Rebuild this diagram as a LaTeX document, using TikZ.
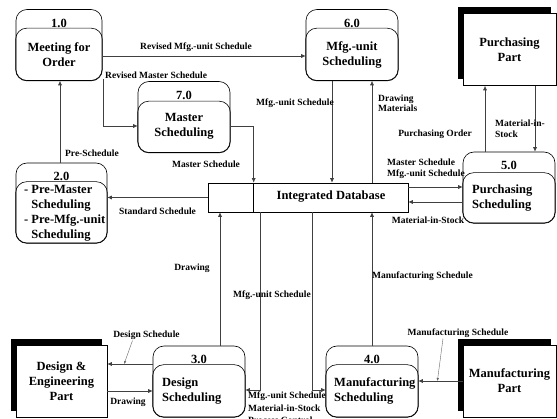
\documentclass[tikz,border=0pt]{standalone}
\usepackage{fontspec}
\setmainfont{Liberation Serif}
\usetikzlibrary{arrows.meta,positioning,shadows}

\begin{document}
\begin{tikzpicture}[x=1pt,y=-1pt,
  >={Latex[length=4.5pt,width=4pt]},
  proc/.style={draw,line width=0.6pt,rounded corners=11pt,minimum width=92pt,minimum height=71pt,inner sep=0pt},
  inbox/.style={draw,line width=0.6pt,rounded corners=11pt},
  ext/.style={draw,line width=0.6pt,fill=white,minimum width=93pt,minimum height=72pt,inner sep=0pt,
    general shadow={fill=black,shadow xshift=-5pt,shadow yshift=6pt}},
  big/.style={font=\fontsize{12.5}{15}\selectfont\bfseries,align=center,inner sep=0pt},
  lbl/.style={font=\fontsize{9.5}{10.5}\selectfont\bfseries,align=left,inner sep=0pt},
  flow/.style={->,line width=0.6pt,black!75},
  hint/.style={-{Latex[length=3pt,width=2.5pt]},thin,black!60}]
\useasboundingbox (0,0) rectangle (557,419);

% processes
\node[proc,minimum width=86pt] (p1) at (59,45) {};
\draw[inbox] ([yshift=-19pt]p1.north west) rectangle (p1.south east);
\node[big] at ([yshift=-14pt]p1.north) {1.0};
\node[big] at (59,55) {Meeting for\\Order};

\node[proc] (p6) at (352,45) {};
\draw[inbox] ([yshift=-19pt]p6.north west) rectangle (p6.south east);
\node[big] at ([yshift=-14pt]p6.north) {6.0};
\node[big] at (352,55) {Mfg.-unit\\Scheduling};

\node[proc] (p7) at (184,117) {};
\draw[inbox] ([yshift=-20pt]p7.north west) rectangle (p7.south east);
\node[big] at ([yshift=-14pt]p7.north) {7.0};
\node[big] at (184,126.5) {Master\\Scheduling};

\node[proc,minimum width=91pt,minimum height=80pt] (p2) at (61.5,203) {};
\draw[inbox] ([yshift=-19pt]p2.north west) rectangle (p2.south east);
\node[big] at ([yshift=-14pt]p2.north) {2.0};
\node[big,align=left,anchor=west] at (24,213.5)
  {- Pre-Master\\\hphantom{-~}Scheduling\\- Pre-Mfg.-unit\\\hphantom{-~}Scheduling};

\node[proc] (p5) at (509,187.5) {};
\draw[inbox] ([yshift=-21pt]p5.north west) rectangle (p5.south east);
\node[big] at ([yshift=-14pt]p5.north) {5.0};
\node[big,align=left,anchor=west] at (472,198) {Purchasing\\Scheduling};

\node[proc] (p3) at (199,381.5) {};
\draw[inbox] ([yshift=-19pt]p3.north west) rectangle (p3.south east);
\node[big] at ([yshift=-14pt]p3.north) {3.0};
\node[big,align=left,anchor=west] at (162,391) {Design\\Scheduling};

\node[proc] (p4) at (372,381.5) {};
\draw[inbox] ([yshift=-19pt]p4.north west) rectangle (p4.south east);
\node[big] at ([yshift=-14pt]p4.north) {4.0};
\node[big,align=left,anchor=west] at (334,391) {Manufacturing\\Scheduling};

% external parts
\node[ext,big] (pp) at (509.5,49.5) {Purchasing\\Part};
\node[ext,big,minimum width=91pt] (de) at (61.5,381) {Design \&\\Engineering\\Part};
\node[ext,big] (mp) at (509.5,381) {Manufacturing\\Part};

% data store
\node[draw,line width=0.6pt,minimum width=200pt,minimum height=29pt] (db) at (308,197.5) {};
\coordinate (dbd) at ([xshift=46pt]db.north west);
\draw[line width=0.6pt] (dbd) -- (dbd |- db.south);
\node[big] at (331,197) {Integrated Database};

% flows
\draw[flow] (p1.east |- 0,56) -- (p6.west |- 0,56);
\node[lbl] (l1) at (196,47) {Revised Mfg.-unit Schedule};
\draw[flow] ([xshift=1pt,yshift=2pt]p1.south east) |- ([yshift=-9pt]p7.west);
\node[lbl,anchor=west] (l2) at (105,75) {Revised Master Schedule};
\draw[flow] (p2.north -| 60,0) -- (p1.south -| 60,0);
\node[lbl] (l3) at (92,153) {Pre-Schedule};
\draw[flow] ([yshift=-9pt]p7.east) -| (dbd);
\node[lbl] (l4) at (206,164) {Master Schedule};
\draw[flow] (p6.south -| 332,0) -- (db.north -| 332,0);
\node[lbl] (l5) at (295,103) {Mfg.-unit Schedule};
\draw[flow] (db.north -| 372,0) -- (p6.south -| 372,0);
\node[lbl,anchor=west] (l6) at (378,103.5) {Drawing\\Materials};
\draw[flow] (p5.north -| 485,0) -- (pp.south -| 485,0);
\node[lbl] (l7) at (435,134) {Purchasing Order};
\draw[flow] (pp.south -| 535,0) -- (p5.north -| 535,0);
\node[lbl,anchor=west] (l8) at (495,129) {Material-in-\\Stock};
\draw[flow] (db.east |- 0,187) -- (p5.west |- 0,187);
\node[lbl,anchor=west] (l9) at (387,169) {Master Schedule\\Mfg.-unit Schedule};
\draw[flow] (p5.west |- 0,202) -- (db.east |- 0,202);
\node[lbl] (l10) at (428,220) {Material-in-Stock};
\draw[flow] (db.west) -- (db.west -| p2.east);
\node[lbl] (l11) at (157.5,211) {Standard Schedule};
\draw[flow] (p3.north -| 220,0) -- (db.south -| 220,0);
\node[lbl] (l12) at (192,268) {Drawing};
\draw[flow] (db.south -| 260,0) |- ([yshift=-8.5pt]p3.east);
\node[lbl] (l13) at (272,295) {Mfg.-unit Schedule};
\draw[flow] (db.south -| 312,0) |- ([yshift=-8.5pt]p4.west);
\node[lbl,anchor=north west,font=\fontsize{9.5}{12.5}\selectfont\bfseries] (l14) at (248,392)
  {Mfg.-unit Schedule\\Material-in-Stock\\Process Control};
\draw[flow] (p4.north -| 372,0) -- (db.south -| 372,0);
\node[lbl,anchor=west] (l15) at (372,276) {Manufacturing Schedule};
\draw[flow] (p3.west |- 0,364) -- (de.east |- 0,364) coordinate[pos=0.63] (ds);
\node[lbl] (l16) at (146.5,335) {Design Schedule};
\draw[hint] ([xshift=-14pt,yshift=-1pt]l16.south) -- (ds);
\draw[flow] (de.east |- 0,391) -- (p3.west |- 0,391);
\node[lbl] (l17) at (128,402) {Drawing};
\draw[flow] (mp.west |- 0,381) -- (p4.east |- 0,381) coordinate[pos=0.57] (ms);
\node[lbl] (l18) at (458,333) {Manufacturing Schedule};
\draw[hint] ([xshift=-15pt,yshift=-1pt]l18.south) -- (ms);
\end{tikzpicture}
\end{document}
